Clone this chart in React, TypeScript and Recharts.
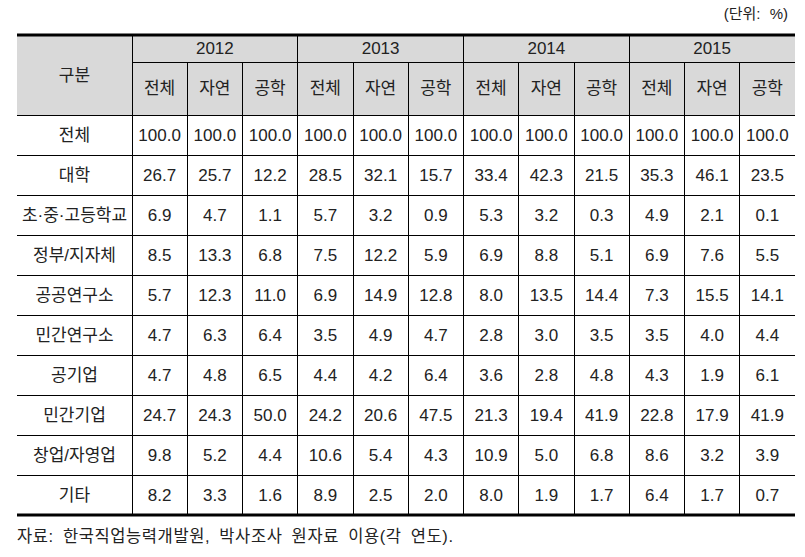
import React from 'react';
import { ScatterChart, Scatter, XAxis, YAxis, ReferenceLine, ReferenceArea } from 'recharts';

const years = ['2012', '2013', '2014', '2015'];
const fields = ['전체', '자연', '공학'];
const rowLabels = ['전체', '대학', '초·중·고등학교', '정부/지자체', '공공연구소', '민간연구소', '공기업', '민간기업', '창업/자영업', '기타'];

const total = [100.0, 100.0, 100.0, 100.0, 100.0, 100.0, 100.0, 100.0, 100.0, 100.0, 100.0, 100.0];
const university = [26.7, 25.7, 12.2, 28.5, 32.1, 15.7, 33.4, 42.3, 21.5, 35.3, 46.1, 23.5];
const school = [6.9, 4.7, 1.1, 5.7, 3.2, 0.9, 5.3, 3.2, 0.3, 4.9, 2.1, 0.1];
const government = [8.5, 13.3, 6.8, 7.5, 12.2, 5.9, 6.9, 8.8, 5.1, 6.9, 7.6, 5.5];
const publicInst = [5.7, 12.3, 11.0, 6.9, 14.9, 12.8, 8.0, 13.5, 14.4, 7.3, 15.5, 14.1];
const privateInst = [4.7, 6.3, 6.4, 3.5, 4.9, 4.7, 2.8, 3.0, 3.5, 3.5, 4.0, 4.4];
const publicCorp = [4.7, 4.8, 6.5, 4.4, 4.2, 6.4, 3.6, 2.8, 4.8, 4.3, 1.9, 6.1];
const privateCorp = [24.7, 24.3, 50.0, 24.2, 20.6, 47.5, 21.3, 19.4, 41.9, 22.8, 17.9, 41.9];
const selfEmployed = [9.8, 5.2, 4.4, 10.6, 5.4, 4.3, 10.9, 5.0, 6.8, 8.6, 3.2, 3.9];
const others = [8.2, 3.3, 1.6, 8.9, 2.5, 2.0, 8.0, 1.9, 1.7, 6.4, 1.7, 0.7];

const rows = [total, university, school, government, publicInst, privateInst, publicCorp, privateCorp, selfEmployed, others];

// table grid in "cell units": label column spans LABEL_SPAN, header spans y -2..0
const LABEL_SPAN = 115 / 55.25;
const YEAR_ROW = -2 + 27 / 40;
const NCOL = years.length * fields.length;

const cells: { x: number; y: number; text: string }[] = [];
cells.push({ x: -LABEL_SPAN / 2, y: -1, text: '구분' });
years.forEach((yr, i) => cells.push({ x: i * 3 + 1.5, y: (-2 + YEAR_ROW) / 2, text: yr }));
years.forEach((_, i) =>
  fields.forEach((f, j) => cells.push({ x: i * 3 + j + 0.5, y: YEAR_ROW / 2, text: f }))
);
rows.forEach((vals, r) => {
  cells.push({ x: -LABEL_SPAN / 2, y: r + 0.5, text: rowLabels[r] });
  vals.forEach((v, c) => cells.push({ x: c + 0.5, y: r + 0.5, text: v.toFixed(1) }));
});

const FONT = '"Liberation Sans", Arial, "Noto Sans CJK KR", sans-serif';

const CellText = (props: any) => {
  const { cx, cy, payload } = props;
  return (
    <text x={cx} y={cy} textAnchor="middle" dominantBaseline="central" fontSize={17} fill="#222" fontFamily={FONT}>
      {payload.text}
    </text>
  );
};

const line = { stroke: '#000', strokeWidth: 1, shapeRendering: 'crispEdges' as const };

export default function App() {
  const hLines = [0, 1, 2, 3, 4, 5, 6, 7, 8, 9];
  const vLines = Array.from({ length: NCOL }, (_, i) => i);
  return (
    <div style={{ position: 'absolute', left: 0, top: 0, width: 805, height: 557, background: '#fff', fontFamily: FONT }}>
      <div style={{ position: 'absolute', right: 17, top: 2, fontSize: 15, wordSpacing: 5, color: '#222' }}>(단위: %)</div>
      <ScatterChart width={805} height={557} margin={{ top: 35, right: 10, bottom: 42, left: 17 }}>
        <XAxis type="number" dataKey="x" domain={[-LABEL_SPAN, NCOL]} hide />
        <YAxis type="number" dataKey="y" domain={[-2, 10]} reversed hide />
        <ReferenceArea x1={-LABEL_SPAN} x2={NCOL} y1={-2} y2={0} fill="#d9d9d9" fillOpacity={1} stroke="none" />
        {hLines.map((y) => (
          <ReferenceLine key={'h' + y} segment={[{ x: -LABEL_SPAN, y }, { x: NCOL, y }]} {...line} />
        ))}
        <ReferenceLine segment={[{ x: 0, y: YEAR_ROW }, { x: NCOL, y: YEAR_ROW }]} {...line} />
        {vLines.map((x) => (
          <ReferenceLine
            key={'v' + x}
            segment={[{ x, y: x % 3 === 0 ? -2 : YEAR_ROW }, { x, y: 10 }]}
            {...line}
          />
        ))}
        <ReferenceLine segment={[{ x: -LABEL_SPAN, y: -2 }, { x: NCOL, y: -2 }]} stroke="#000" strokeWidth={3} />
        <ReferenceLine segment={[{ x: -LABEL_SPAN, y: 10 }, { x: NCOL, y: 10 }]} stroke="#000" strokeWidth={3} />
        <Scatter data={cells} shape={CellText} isAnimationActive={false} />
      </ScatterChart>
      <div style={{ position: 'absolute', left: 17, top: 523, fontSize: 16.5, wordSpacing: 4, letterSpacing: 0.6, color: '#222' }}>
        자료: 한국직업능력개발원, 박사조사 원자료 이용(각 연도).
      </div>
    </div>
  );
}
